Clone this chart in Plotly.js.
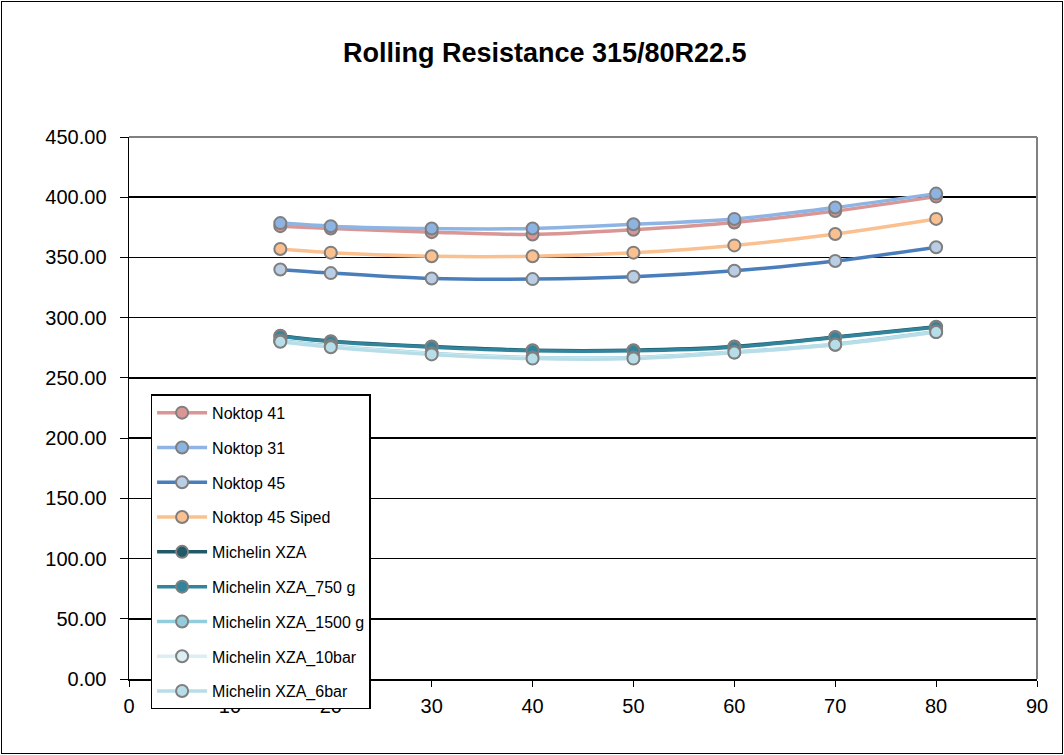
<!DOCTYPE html>
<html>
<head>
<meta charset="utf-8">
<script src="https://cdn.plot.ly/plotly-3.0.1.min.js"></script>
<style>
  html, body { margin: 0; padding: 0; background: #fff; }
  #wrap { position: relative; width: 1064px; height: 755px; }
  #chart { width: 1064px; height: 755px; }
  #frame { position: absolute; left: 1px; top: 1px; width: 1060px; height: 751px; border: 1px solid #000; pointer-events: none; }
</style>
</head>
<body>
<div id="wrap"><div id="chart"></div><div id="frame"></div></div>
<script>
// Speed values (x axis)
const speeds = [15, 20, 30, 40, 50, 60, 70, 80];

// Rolling resistance per tyre
const noktop41 = [376, 374, 371, 369, 373, 379, 388.5, 400.5];
const noktop31 = [378.5, 376, 374, 374, 377.5, 382, 391.5, 403];
const noktop45 = [340, 337, 332.5, 332, 334, 339, 347, 358.5];
const noktop45Siped = [357, 354, 351, 351, 354, 360, 369.5, 382];
const michelinXZA = [285, 280.5, 276, 273, 273, 276, 284, 292.5];
const michelinXZA750 = [284.5, 280, 275.5, 272.5, 272.5, 275.5, 283.5, 292];
const michelinXZA1500 = [281, 276.5, 270.5, 267, 267, 271.5, 278, 288.5];
const michelinXZA10bar = [280.5, 276, 270, 266.5, 266.5, 271, 277.5, 288];
const michelinXZA6bar = [280, 275.5, 269.5, 266, 266, 271, 277.5, 288];

const seriesNames = ["Noktop 41", "Noktop 31", "Noktop 45", "Noktop 45 Siped",
  "Michelin XZA", "Michelin XZA_750 g", "Michelin XZA_1500 g", "Michelin XZA_10bar", "Michelin XZA_6bar"];
const seriesValues = [noktop41, noktop31, noktop45, noktop45Siped,
  michelinXZA, michelinXZA750, michelinXZA1500, michelinXZA10bar, michelinXZA6bar];
const lineColors = ["#D99694", "#8EB4E3", "#4A7EBB", "#FAC090",
  "#215968", "#31849B", "#93CDDD", "#DBEEF4", "#B7DEE8"];
const markerColors = ["#D99694", "#8DB3E2", "#B9CDE5", "#FAC090",
  "#215968", "#31849B", "#93CDDD", "#DBEEF4", "#B7DEE8"];

const yTicks = [0, 50, 100, 150, 200, 250, 300, 350, 400, 450];
const xTicks = [0, 10, 20, 30, 40, 50, 60, 70, 80, 90];

const traces = seriesNames.map((name, i) => ({
  type: 'scatter',
  mode: 'lines+markers',
  name: name,
  legendgroup: 'g' + i,
  x: speeds,
  y: seriesValues[i],
  line: { color: lineColors[i], width: 3.5, shape: 'spline', smoothing: 0.8 },
  marker: { size: 12, color: markerColors[i], line: { color: '#7F7F7F', width: 2 } }
}));

const layout = {
  width: 1064, height: 755,
  paper_bgcolor: '#fff', plot_bgcolor: '#fff',
  font: { family: 'Arial, "Liberation Sans", sans-serif', color: '#000', size: 20 },
  margin: { l: 129, r: 27, t: 137, b: 76 },
  title: { text: '<b>Rolling Resistance 315/80R22.5</b>', x: 0.512, xanchor: 'center', y: 0.931, yanchor: 'middle',
           font: { size: 27, family: 'Arial, "Liberation Sans", sans-serif', color: '#000' } },
  xaxis: {
    range: [0, 90], tickvals: xTicks, ticktext: xTicks.map(String),
    showgrid: false, zeroline: false,
    showline: true, linecolor: '#000', linewidth: 1.5,
    ticks: 'outside', ticklen: 6, tickcolor: '#000', tickwidth: 1,
    ticklabelstandoff: 2,
    tickfont: { size: 20 }
  },
  yaxis: {
    range: [0, 450], tickvals: yTicks, ticktext: yTicks.map(v => v.toFixed(2)),
    showgrid: true, gridcolor: '#000', gridwidth: 1.5, zeroline: false,
    showline: true, linecolor: '#000', linewidth: 1.5,
    ticks: 'outside', ticklen: 8, tickcolor: '#000', tickwidth: 1,
    ticklabelstandoff: 9,
    tickfont: { size: 20 }
  },
  shapes: [
    { type: 'line', xref: 'paper', yref: 'paper', x0: 0, x1: 1, y0: 1, y1: 1, line: { color: '#808080', width: 2 }, layer: 'above' },
    { type: 'line', xref: 'paper', yref: 'paper', x0: 1, x1: 1, y0: 0, y1: 1, line: { color: '#808080', width: 2 }, layer: 'above' }
  ],
  legend: {
    x: 0.024, y: 0.525, xanchor: 'left', yanchor: 'top',
    bgcolor: '#fff', bordercolor: '#000', borderwidth: 1.3,
    font: { size: 16, family: 'Arial, "Liberation Sans", sans-serif', color: '#000' },
    tracegroupgap: 11, itemwidth: 50, traceorder: 'grouped', entrywidth: 236
  },
  showlegend: true
};

Plotly.newPlot('chart', traces, layout, { displayModeBar: false, staticPlot: true });
</script>
</body>
</html>
